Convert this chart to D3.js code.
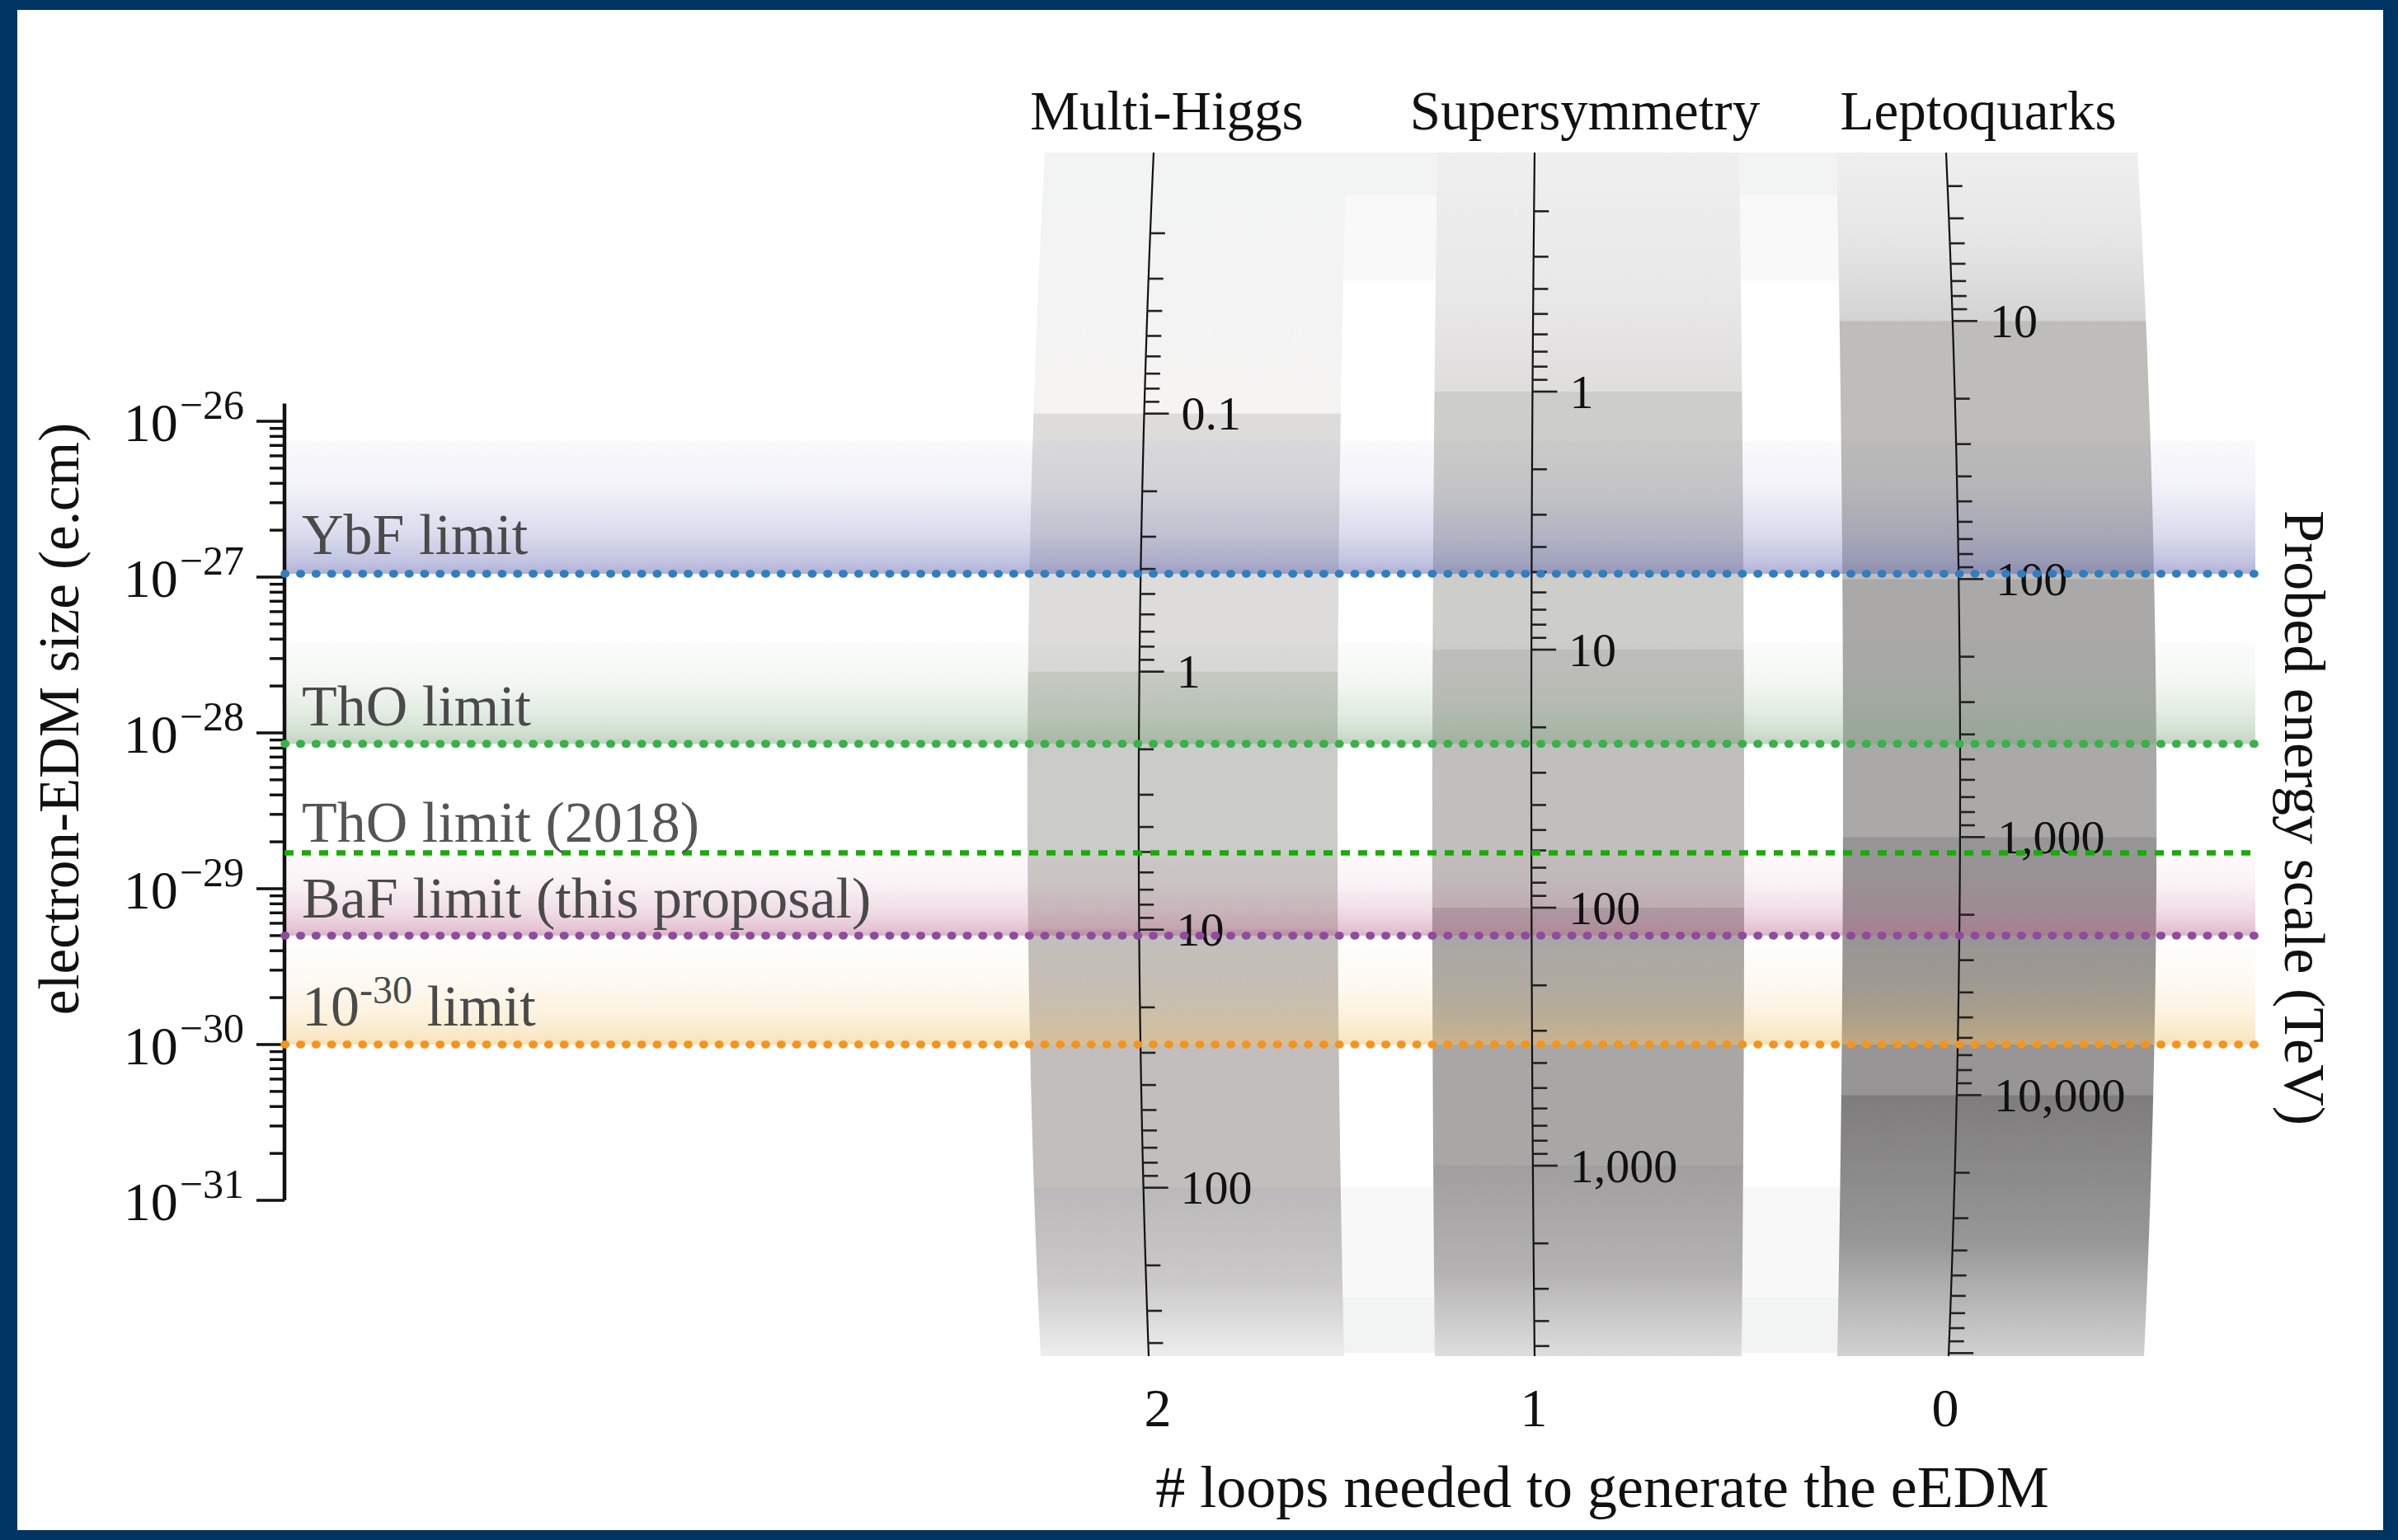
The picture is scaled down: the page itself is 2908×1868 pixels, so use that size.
<!DOCTYPE html>
<html>
<head>
<meta charset="utf-8">
<script src="https://cdn.jsdelivr.net/npm/d3@7"></script>
<style>
  html, body { margin: 0; padding: 0; background: #003462; }
  svg { display: block; }
  text { font-family: "Liberation Serif", "DejaVu Serif", serif; }
</style>
</head>
<body>
<svg id="chart" width="2908" height="1868"></svg>
<script>
// ---------------- data ----------------
// electron EDM axis (e.cm)
const edmTicks = [1e-26, 1e-27, 1e-28, 1e-29, 1e-30, 1e-31];

// experimental limits
const limitNames  = ["YbF limit", "ThO limit", "ThO limit (2018)", "BaF limit (this proposal)", "10-30 limit"];
const limitValues = [1.05e-27, 8.5e-29, 1.7e-29, 5e-30, 1e-30];
const limitBandTops = [7.5e-27, 3.8e-28, null, 1.65e-29, 4.3e-30];
const limitColors = ["#2f7fc0", "#36b24a", "#16ad05", "#8f4b9d", "#f4941f"];
const bandColors  = ["rgb(88,93,173)", "rgb(122,166,122)", null, "rgb(186,99,139)", "rgb(240,193,106)"];

// theory models
const modelNames = ["Multi-Higgs", "Supersymmetry", "Leptoquarks"];
const modelLoops = [2, 1, 0];
const energyLabels = [[0.1, 1, 10, 100], [1, 10, 100, 1000], [10, 100, 1000, 10000]];
// energy (TeV) paired with the EDM size it generates, per model
const energyAnchor = [0.1, 1, 10];
const edmAtAnchor = [1.12e-26, 1.55e-26, 4.4e-26];
const edmDecadesPerEnergyDecade = 1.656;
// shading of each energy band, top segment .. bottom segment
const modelShades = [
  ["#f6f4f3", "#dddcdb", "#cbcbc7", "#c1bebc", "#bab8b8"],
  ["#e0dddd", "#cdcdc9", "#c1bebd", "#a9a7a6", "#a09e9e"],
  ["#d4d3d3", "#bebdb9", "#aaa9a8", "#979595", "#7e7c7c"]
];
const modelEdgeShades = [["#f2f3f3", "#eeeeee"], ["#efefef", "#dedede"], ["#efefef", "#d2d2d2"]];
// EDM extent of the shaded map
const mapTop = 5.3e-25, mapBottom = 1e-32;
// faint cells between the model columns
const fillerBands = [[5.3e-25, 2.8e-25, "#f2f3f3"], [2.8e-25, 8e-26, "#f9f9f9"],
                     [1.22e-31, 2.4e-32, "#f8f8f8"], [2.4e-32, 1.05e-32, "#f2f4f4"]];

// ---------------- layout ----------------
const svg = d3.select("#chart");
const defs = svg.append("defs");

svg.append("rect").attr("width", 2908).attr("height", 1868).attr("fill", "#003462");
svg.append("rect").attr("x", 21).attr("y", 12).attr("width", 2869).attr("height", 1844).attr("fill", "#ffffff");

const y = d3.scaleLog().domain([1e-26, 1e-31]).range([511, 1456]);
const x = d3.scaleLinear().domain([2, 1, 0]).range([1404, 1860, 2359]);
const axisX0 = 345, lineEnd = 2735;

const yTop = y(mapTop), yBot = y(mapBottom), yMid = (yTop + yBot) / 2;
const geomY = [yTop, yMid, yBot];
// column outlines and energy-axis spines (x at top, middle, bottom)
const colGeom = [
  { axis: [1399, 1381, 1393], left: [1267, 1246, 1262], right: [1633, 1622, 1630], title: 1415 },
  { axis: [1861, 1857, 1861], left: [1743, 1737, 1740], right: [2109, 2115, 2112], title: 1922 },
  { axis: [2360, 2377, 2363], left: [2227, 2235, 2228], right: [2592, 2615, 2600], title: 2399 }
];
function quad(p, yy) {
  const [y0, y1, y2] = geomY;
  const L0 = (yy - y1) * (yy - y2) / ((y0 - y1) * (y0 - y2));
  const L1 = (yy - y0) * (yy - y2) / ((y1 - y0) * (y1 - y2));
  const L2 = (yy - y0) * (yy - y1) / ((y2 - y0) * (y2 - y1));
  return p[0] * L0 + p[1] * L1 + p[2] * L2;
}
function energyScale(i) {
  const e0 = energyAnchor[i], d0 = edmAtAnchor[i];
  const d1 = d0 * Math.pow(10, -3 * edmDecadesPerEnergyDecade);
  return d3.scaleLog().domain([e0, e0 * 1000]).range([y(d0), y(d1)]);
}

// ---------- faint cells between columns ----------
const gMap = svg.append("g");
fillerBands.forEach(b => {
  gMap.append("rect").attr("x", 1600).attr("width", 660)
    .attr("y", y(b[0])).attr("height", y(b[1]) - y(b[0])).attr("fill", b[2]);
});

// ---------- model columns ----------
const ys = d3.range(0, 41).map(k => yTop + (yBot - yTop) * k / 40);
modelNames.forEach((name, i) => {
  const g = colGeom[i];
  const outline = ys.map(v => [quad(g.left, v), v]).concat(ys.slice().reverse().map(v => [quad(g.right, v), v]));
  defs.append("clipPath").attr("id", "col" + i).append("path")
    .attr("d", "M" + outline.map(p => p.join(",")).join("L") + "Z");

  const s = energyScale(i);
  const bounds = [yTop].concat(energyLabels[i].map(e => s(e))).concat([yBot]);
  const shades = modelShades[i], edges = modelEdgeShades[i];

  const gt = defs.append("linearGradient").attr("id", "top" + i).attr("x1", 0).attr("y1", 0).attr("x2", 0).attr("y2", 1);
  gt.append("stop").attr("offset", 0).attr("stop-color", edges[0]);
  gt.append("stop").attr("offset", 0.55).attr("stop-color", d3.interpolateRgb(edges[0], shades[0])(0.35));
  gt.append("stop").attr("offset", 1).attr("stop-color", shades[0]);
  const gb = defs.append("linearGradient").attr("id", "bot" + i).attr("x1", 0).attr("y1", 0).attr("x2", 0).attr("y2", 1);
  gb.append("stop").attr("offset", 0).attr("stop-color", shades[shades.length - 1]);
  gb.append("stop").attr("offset", 0.55).attr("stop-color", d3.interpolateRgb(shades[shades.length - 1], edges[1])(0.3));
  gb.append("stop").attr("offset", 1).attr("stop-color", edges[1]);

  const gc = gMap.append("g").attr("clip-path", "url(#col" + i + ")");
  const xl = Math.min(...g.left) - 5, xr = Math.max(...g.right) + 5;
  gc.selectAll("rect").data(d3.range(bounds.length - 1)).join("rect")
    .attr("x", xl).attr("width", xr - xl)
    .attr("y", k => bounds[k]).attr("height", k => bounds[k + 1] - bounds[k] + 0.5)
    .attr("fill", k => k === 0 ? "url(#top" + i + ")" : (k === bounds.length - 2 ? "url(#bot" + i + ")" : shades[k]));
});

// ---------- limit bands ----------
limitValues.forEach((v, i) => {
  if (!limitBandTops[i]) return;
  const gr = defs.append("linearGradient").attr("id", "band" + i).attr("x1", 0).attr("y1", 0).attr("x2", 0).attr("y2", 1);
  [[0, 0.03], [0.35, 0.08], [0.7, 0.22], [0.9, 0.36], [1, 0.48]].forEach(st =>
    gr.append("stop").attr("offset", st[0]).attr("stop-color", bandColors[i]).attr("stop-opacity", st[1]));
  svg.append("rect").attr("x", axisX0).attr("width", lineEnd - axisX0)
    .attr("y", y(limitBandTops[i])).attr("height", y(v) - y(limitBandTops[i]))
    .attr("fill", "url(#band" + i + ")");
});

// ---------- energy axes ----------
const fmt = d3.format(",");
modelNames.forEach((name, i) => {
  const g = colGeom[i];
  const s = energyScale(i);
  const ga = svg.append("g");
  ga.append("path")
    .attr("d", d3.line()(ys.map(v => [quad(g.axis, v), v])))
    .attr("fill", "none").attr("stroke", "#111").attr("stroke-width", 2.2);
  const eTop = s.invert(yTop + 8), eBot = s.invert(yBot);
  const ticks = d3.scaleLog().domain([eTop, eBot]).ticks();
  const isMajor = e => Math.abs(Math.log10(e) - Math.round(Math.log10(e))) < 1e-6;
  ga.selectAll("line.t").data(ticks).join("line")
    .attr("x1", e => quad(g.axis, s(e)))
    .attr("x2", e => quad(g.axis, s(e)) + (isMajor(e) ? 30 : 18))
    .attr("y1", e => s(e)).attr("y2", e => s(e))
    .attr("stroke", "#222").attr("stroke-width", 2.6);
  ga.selectAll("text").data(energyLabels[i]).join("text")
    .attr("x", e => quad(g.axis, s(e)) + 45)
    .attr("y", e => s(e)).attr("dy", "0.34em")
    .attr("font-size", 58).attr("fill", "#111")
    .text(e => fmt(e));
  // model title
  svg.append("text").attr("x", g.title).attr("y", 157).attr("text-anchor", "middle")
    .attr("font-size", 67).attr("fill", "#111").text(name);
  // loop count under the column
  svg.append("text").attr("x", x(modelLoops[i])).attr("y", 1730).attr("text-anchor", "middle")
    .attr("font-size", 66).attr("fill", "#111").text(modelLoops[i]);
});

// ---------- EDM axis ----------
const gy = svg.append("g");
gy.append("line").attr("x1", axisX0).attr("x2", axisX0)
  .attr("y1", y(1.3e-26)).attr("y2", y(1e-31)).attr("stroke", "#111").attr("stroke-width", 4.5);
const yMinor = d3.scaleLog().domain([1.3e-26, 1e-31]).ticks();
const isDecade = d => Math.abs(Math.log10(d) - Math.round(Math.log10(d))) < 1e-6;
gy.selectAll("line.m").data(yMinor).join("line")
  .attr("x1", d => axisX0 - (isDecade(d) ? 34 : 18)).attr("x2", axisX0)
  .attr("y1", d => y(d)).attr("y2", d => y(d))
  .attr("stroke", "#111").attr("stroke-width", 3.4);
edmTicks.forEach(d => {
  const t = gy.append("text").attr("x", 296).attr("y", y(d) + 24)
    .attr("text-anchor", "end").attr("fill", "#111");
  t.append("tspan").attr("font-size", 66).text("10");
  t.append("tspan").attr("font-size", 50).attr("dy", -27).attr("dx", 2)
    .text("\u2212" + Math.round(-Math.log10(d)));
});

// ---------- limit lines ----------
limitValues.forEach((v, i) => {
  const dashed = i === 2;
  svg.append("line").attr("x1", axisX0).attr("x2", lineEnd)
    .attr("y1", y(v)).attr("y2", y(v))
    .attr("stroke", limitColors[i])
    .attr("stroke-width", dashed ? 6.5 : 9.5)
    .attr("stroke-dasharray", dashed ? "11 10" : "1.5 17.3")
    .attr("stroke-linecap", dashed ? "butt" : "round");
});

// ---------- limit labels ----------
const labelDy = [-24, -22, -13, -22, -23];
limitNames.forEach((n, i) => {
  const t = svg.append("text").attr("x", 366).attr("y", y(limitValues[i]) + labelDy[i])
    .attr("font-size", 70).attr("fill", i === 2 ? "#555" : "#4a4a4a");
  if (n.startsWith("10-30")) {
    t.append("tspan").text("10");
    t.append("tspan").attr("font-size", 48).attr("dy", -27).text("-30");
    t.append("tspan").attr("dy", 27).text(" limit");
  } else {
    t.text(n);
  }
});

// ---------- axis titles ----------
svg.append("text").attr("transform", "translate(95,872) rotate(-90)")
  .attr("text-anchor", "middle").attr("font-size", 69).attr("fill", "#111")
  .text("electron-EDM size (e.cm)");
svg.append("text").attr("transform", "translate(2771,992) rotate(90)")
  .attr("text-anchor", "middle").attr("font-size", 70).attr("fill", "#111")
  .text("Probed energy scale (TeV)");
svg.append("text").attr("x", 1943).attr("y", 1828).attr("text-anchor", "middle")
  .attr("font-size", 72).attr("fill", "#111")
  .text("# loops needed to generate the eEDM");
</script>
</body>
</html>
